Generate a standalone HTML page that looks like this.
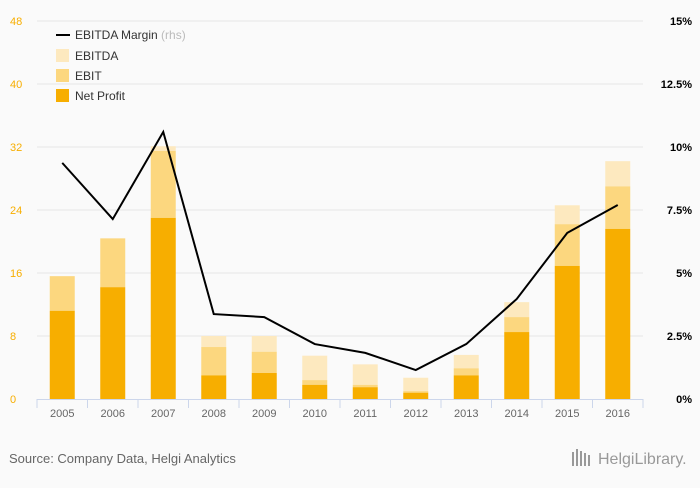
<!DOCTYPE html>
<html><head><meta charset="utf-8"><style>
body{margin:0;background:#fafafa;font-family:"Liberation Sans",sans-serif;}
svg text{font-family:"Liberation Sans",sans-serif;}
</style></head><body>
<svg id="chart" width="700" height="483">
<rect width="700" height="483" fill="#fafafa"/>
<g id="grid"></g><g id="bars"></g><g id="line"></g><g id="axes"></g>
<g>
<line x1="56" y1="35" x2="70" y2="35" stroke="#000" stroke-width="2"/>
<text x="75" y="39" font-size="12" fill="#333">EBITDA Margin <tspan fill="#bbb">(rhs)</tspan></text>
<rect x="56" y="49" width="13" height="13" fill="#fde9bf"/><text x="75" y="60" font-size="12" fill="#333">EBITDA</text>
<rect x="56" y="69" width="13" height="13" fill="#fcd77f"/><text x="75" y="80" font-size="12" fill="#333">EBIT</text>
<rect x="56" y="89" width="13" height="13" fill="#f7ae00"/><text x="75" y="100" font-size="12" fill="#333">Net Profit</text>
</g>
<text x="9" y="463" font-size="13" fill="#666">Source: Company Data, Helgi Analytics</text>
<text x="598" y="464" font-size="16" fill="#999">HelgiLibrary.</text>
<g fill="#999"><rect x="572" y="452" width="2" height="14"/><rect x="576" y="449" width="2" height="17"/><rect x="580" y="451" width="2" height="15"/><rect x="584" y="453" width="2" height="13"/><rect x="588" y="455" width="2" height="11"/></g>
</svg>
<script>
const categories=["2005","2006","2007","2008","2009","2010","2011","2012","2013","2014","2015","2016"];
const netProfit=[11.2,14.2,23,3.0,3.3,1.8,1.5,0.8,3.0,8.5,16.9,21.6];
const ebit=[15.6,20.4,31.5,6.6,6.0,2.4,1.8,1.0,3.9,10.4,22.2,27.0];
const ebitda=[15.6,20.4,32.1,8.0,8.0,5.5,4.4,2.7,5.6,12.3,24.6,30.2];
const margin=[9.37,7.14,10.6,3.37,3.25,2.18,1.83,1.15,2.18,3.97,6.59,7.7];
const leftTicks=[0,8,16,24,32,40,48];
const rightTicks=["0%","2.5%","5%","7.5%","10%","12.5%","15%"];
const NS="http://www.w3.org/2000/svg";
const x0=37,x1=643,yTop=21,yBot=399,step=(x1-x0)/categories.length,bw=25;
const yL=v=>yBot-(v/48)*(yBot-yTop);
const yR=v=>yBot-(v/15)*(yBot-yTop);
const xc=i=>x0+step*(i+0.5);
function mk(tag,attrs,parent){const e=document.createElementNS(NS,tag);for(const k in attrs)e.setAttribute(k,attrs[k]);parent.appendChild(e);return e;}
const grid=document.getElementById('grid'),bars=document.getElementById('bars'),axes=document.getElementById('axes'),line=document.getElementById('line');
leftTicks.forEach((t,i)=>{
 const y=yL(t);
 if(i>0){const g=mk('line',{x1:x0,x2:x1,y1:y,y2:y,stroke:'#e6e6e6'},grid);
 
 }
 const l=mk('text',{x:10,y:y+4,'font-size':11,fill:'#f7ae00'},axes);l.textContent=t;
 
 
 const r=mk('text',{x:692,y:y+4,'font-size':11,fill:'#000','text-anchor':'end','font-weight':'bold'},axes);r.textContent=rightTicks[i];
 
 
});
mk('line',{x1:x0,x2:x1,y1:yBot+0.5,y2:yBot+0.5,stroke:'#ccd6eb'},axes);
categories.forEach((c,i)=>{
 const x=xc(i)-bw/2;
 const s=[[ebit[i],ebitda[i],'#fde9bf','bar-ebitda'],[netProfit[i],ebit[i],'#fcd77f','bar-ebit'],[0,netProfit[i],'#f7ae00','bar-net-profit']];
 s.forEach(([a,b,col,n])=>{const r=mk('rect',{x:x,y:yL(b),width:bw,height:Math.max(0,yL(a)-yL(b)),fill:col},bars);
 
 });
 const tk=mk('line',{x1:x0+step*i,x2:x0+step*i,y1:yBot,y2:yBot+9,stroke:'#ccd6eb'},axes);
 const t=mk('text',{x:xc(i),y:417,'font-size':11,fill:'#666','text-anchor':'middle'},axes);t.textContent=c;
 
 
});
mk('line',{x1:x1,x2:x1,y1:yBot,y2:yBot+9,stroke:'#ccd6eb'},axes);
const p=mk('polyline',{points:margin.map((v,i)=>xc(i)+','+yR(v)).join(' '),fill:'none',stroke:'#000','stroke-width':2},line);


</script>
</body></html>
